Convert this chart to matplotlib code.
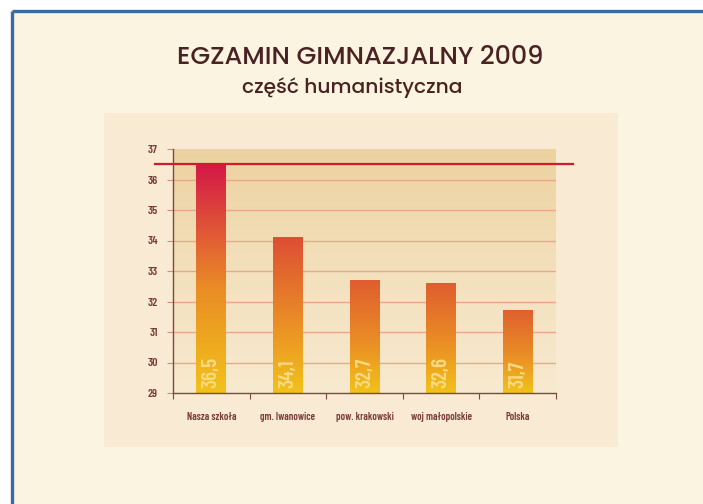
import matplotlib
matplotlib.use("Agg")
import matplotlib.pyplot as plt
import numpy as np
from matplotlib import font_manager
from matplotlib.colors import LinearSegmentedColormap, to_rgb
from matplotlib.patches import Rectangle

categories = ["Nasza szkoła", "gm. Iwanowice", "pow. krakowski", "woj małopolskie", "Polska"]
values = [36.5, 34.1, 32.7, 32.6, 31.7]
value_labels = ["36,5", "34,1", "32,7", "32,6", "31,7"]
yticks = [29, 30, 31, 32, 33, 34, 35, 36, 37]
title1 = "EGZAMIN GIMNAZJALNY 2009"
title2 = "część humanistyczna"


def pick(cands, weight):
    for c in cands:
        for f in font_manager.fontManager.ttflist:
            if f.name == c and "[" not in f.fname and abs(int(f.weight) - weight) <= 50 and f.style == "normal":
                return [c, "DejaVu Sans"]
    return ["DejaVu Sans"]


narrow = pick(["Barlow Condensed", "Roboto Condensed", "PT Sans Narrow"], 600)
title_font = pick(["Poppins", "Gothic A1", "Lato"], 500)

W, H = 703, 504
fig = plt.figure(figsize=(W / 100, H / 100), dpi=100)
fig.patch.set_facecolor("white")


def fx(px):
    return px / W


def fy(py):
    return 1 - py / H


# cream page with blue frame
bg = fig.add_axes([0, 0, 1, 1], zorder=-10)
bg.set_xlim(0, W); bg.set_ylim(H, 0); bg.axis("off")
bg.add_patch(Rectangle((12, 11), W - 12, H - 11, facecolor="#fbf4e0", edgecolor="none"))
bg.plot([12, 12], [11, H], color="#3a6aa2", lw=2.4, solid_capstyle="butt")
bg.plot([12, W], [11, 11], color="#3a6aa2", lw=2.4, solid_capstyle="butt")
# inner panel
bg.add_patch(Rectangle((104, 113), 514, 334, facecolor="#f9ead3", edgecolor="none"))

# titles
t1 = fig.text(fx(360), fy(58), title1, ha="center", va="center", fontsize=15,
              fontweight=500, color="#4a2224", family=title_font)
t2 = fig.text(fx(352), fy(88), title2, ha="center", va="center", fontsize=15,
              fontweight=500, color="#4a2224", family=title_font)

# plot area
ax = fig.add_axes([fx(173), fy(393), fx(556) - fx(173), fy(149) - fy(393)])
ax.set_facecolor("none")

bgcmap = LinearSegmentedColormap.from_list("bgc", ["#f8ead0", "#f3e0bc", "#ecd2a0"])
grad = np.linspace(0, 1, 256).reshape(-1, 1)
ax.imshow(grad, extent=(-0.5, len(categories) - 0.5, yticks[0], yticks[-1]), origin="lower",
          aspect="auto", cmap=bgcmap, zorder=0)

for t in yticks[1:-1]:
    ax.axhline(t, color="#e9a88c", lw=1.0, zorder=1)

bw = 0.39
vmax = max(values)
vmin = min(values)
vtexts = []
for i, v in enumerate(values):
    frac = ((v - vmin) / (vmax - vmin)) ** 2
    top = np.array(to_rgb("#e0602e")) * (1 - frac) + np.array(to_rgb("#d41848")) * frac
    cm = LinearSegmentedColormap.from_list("b%d" % i, [(0, "#f2c21a"), (0.45, "#ea8e26"), (1, tuple(top))])
    ax.imshow(grad, extent=(i - bw / 2, i + bw / 2, yticks[0], v), origin="lower",
              aspect="auto", cmap=cm, zorder=2)
    vtexts.append(ax.text(i, yticks[0] + 0.17, value_labels[i], rotation=90, ha="center", va="bottom",
                          fontsize=15, fontweight=600, color="#f7da82", family=narrow, zorder=3))

ax.set_xlim(-0.5, len(categories) - 0.5)
ax.set_ylim(yticks[0], yticks[-1])

ax.axhline(values[0], xmin=-0.047, xmax=1.044, color="#cf1c2a", lw=1.6, zorder=4, clip_on=False)

ax.set_yticks(yticks)
ax.set_yticklabels([str(t) for t in yticks], fontsize=8.5, fontweight=600, color="#7a3a38", family=narrow)
ax.tick_params(axis="y", direction="out", length=4, color="#c89080", pad=7)
ax.set_xticks(np.arange(-0.5, len(categories), 1.0))
ax.set_xticklabels([])
ax.set_xticks(np.arange(len(categories)), minor=True)
ax.set_xticklabels(categories, minor=True, fontsize=7.5, fontweight=600, color="#7a3a38", family=narrow)
ax.tick_params(axis="x", which="major", direction="out", length=4, color="#7a4a40")
ax.tick_params(axis="x", which="minor", length=0, pad=14)
for s in ["top", "right"]:
    ax.spines[s].set_visible(False)
for s in ["left", "bottom"]:
    ax.spines[s].set_color("#7a4a40")
    ax.spines[s].set_linewidth(1.0)

# fit title / value-label sizes to the reference's measured extents
fig.canvas.draw()
r = fig.canvas.get_renderer()


def fit(txt, target, horizontal=True):
    e = txt.get_window_extent(r)
    size = e.width if horizontal else e.height
    return txt.get_fontsize() * target / size


t1.set_fontsize(fit(t1, 366))
t2.set_fontsize(fit(t2, 220))
v_fs = fit(vtexts[0], 31, horizontal=False)
for t in vtexts:
    t.set_fontsize(v_fs)

fig.savefig("out.png", dpi=100)
